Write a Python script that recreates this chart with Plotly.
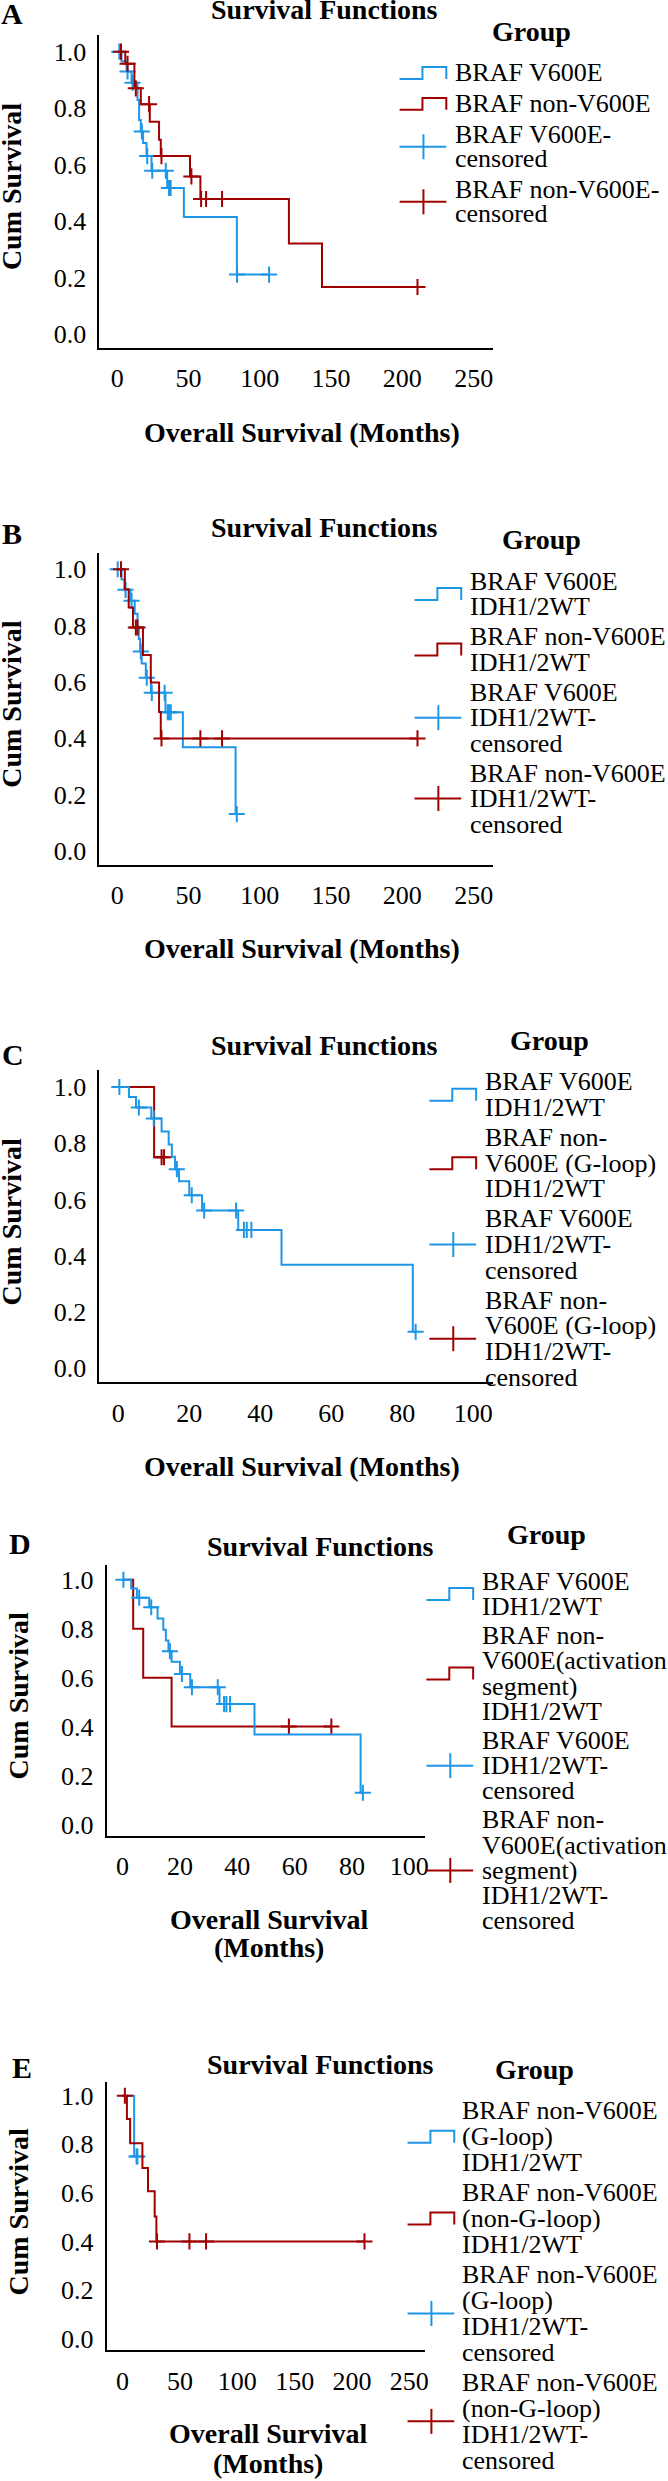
import plotly.graph_objects as go

W, H = 668, 2481
FONT = "'Liberation Serif', 'Times New Roman', Times, serif"
BLUE = "#1E96E8"
RED = "#A00000"
BLACK = "#000000"

# ---------------- data (months, cumulative survival) ----------------
# Panel A: BRAF V600E vs non-V600E
a_v600e_t = [3, 6.5, 10, 14.2, 15.3, 16.5, 18.1, 20.5, 24, 35, 46.7, 83.9]
a_v600e_s = [0.965, 0.93, 0.89, 0.829, 0.758, 0.717, 0.676, 0.63, 0.578, 0.517, 0.414, 0.21]
a_v600e_c = [1.4, 7.2, 10.7, 17.2, 21, 24.5, 34, 36.3, 37.4, 84, 106.5]
a_non_t = [5.6, 12, 16.5, 22.8, 29.3, 30.5, 51, 58.3, 120.4, 143.6]
a_non_s = [0.957, 0.87, 0.814, 0.752, 0.688, 0.63, 0.558, 0.478, 0.32, 0.166]
a_non_c = [2.6, 7.2, 13, 22.3, 31, 52, 58.8, 62.3, 73.5, 210.6]

# BRAF V600E IDH1/2WT (panels B, C, D)
v600e_wt_t = [3, 5, 9.3, 12.2, 14.2, 15.1, 16, 17.1, 20, 23.6, 33.8, 46, 83]
v600e_wt_s = [0.964, 0.927, 0.888, 0.842, 0.796, 0.752, 0.708, 0.665, 0.615, 0.561, 0.492, 0.368, 0.13]
v600e_wt_c = [0.3, 5.8, 10, 16.5, 20.7, 24.2, 33.2, 35.4, 36.2, 37.5, 83.8]

# BRAF non-V600E IDH1/2WT (panel B)
non_wt_t = [5.3, 8, 11, 18, 23.5, 29.3, 30.5]
non_wt_s = [0.929, 0.864, 0.793, 0.695, 0.598, 0.493, 0.399]
non_wt_c = [2.6, 13, 14.2, 31, 58.3, 73.5, 210.6]

# BRAF non-V600E (G-loop) IDH1/2WT (panels C, E)
gloop_t = [10.1]
gloop_s = [0.75]
gloop_c = [12.2, 12.9]

# BRAF non-V600E (activation segment) IDH1/2WT (panel D)
act_t = [3.7, 7.2, 17.1]
act_s = [0.8, 0.6, 0.4]
act_c = [58, 72.8]

# BRAF non-V600E (non-G-loop) IDH1/2WT (panel E)
nongl_t = [3.8, 6.6, 17.3, 22.2, 28, 29.5]
nongl_s = [0.904, 0.805, 0.703, 0.607, 0.503, 0.401]
nongl_c = [2, 30, 58.3, 72.8, 210.9]

# tick labels
x_ticks_250 = [0, 50, 100, 150, 200, 250]
x_ticks_100 = [0, 20, 40, 60, 80, 100]
y_ticks = [0.0, 0.2, 0.4, 0.6, 0.8, 1.0]

# legend texts
leg_A = [["BRAF V600E"], ["BRAF non-V600E"], ["BRAF V600E-", "censored"],
         ["BRAF non-V600E-", "censored"]]
leg_B = [["BRAF V600E", "IDH1/2WT"], ["BRAF non-V600E", "IDH1/2WT"],
         ["BRAF V600E", "IDH1/2WT-", "censored"],
         ["BRAF non-V600E", "IDH1/2WT-", "censored"]]
leg_C = [["BRAF V600E", "IDH1/2WT"], ["BRAF non-", "V600E (G-loop)", "IDH1/2WT"],
         ["BRAF V600E", "IDH1/2WT-", "censored"],
         ["BRAF non-", "V600E (G-loop)", "IDH1/2WT-", "censored"]]
leg_D = [["BRAF V600E", "IDH1/2WT"],
         ["BRAF non-", "V600E(activation", "segment)", "IDH1/2WT"],
         ["BRAF V600E", "IDH1/2WT-", "censored"],
         ["BRAF non-", "V600E(activation", "segment)", "IDH1/2WT-", "censored"]]
leg_E = [["BRAF non-V600E", "(G-loop)", "IDH1/2WT"],
         ["BRAF non-V600E", "(non-G-loop)", "IDH1/2WT"],
         ["BRAF non-V600E", "(G-loop)", "IDH1/2WT-", "censored"],
         ["BRAF non-V600E", "(non-G-loop)", "IDH1/2WT-", "censored"]]

# ---------------- layout geometry (pixels) ----------------
panels = [
    dict(label="A", left=100, right=496, top=35, bottom=348, x0=118, xppu=71.7 / 50,
         y1=51.7, y0=334.3, xticks=x_ticks_250,
         curves=[(a_v600e_t, a_v600e_s, a_v600e_c, BLUE), (a_non_t, a_non_s, a_non_c, RED)],
         lab=(12.5, 13.3), title=(326, 10), ytitle=(11.7, 186.7),
         xtitle=[("Overall Survival (Months)", 304, 433)],
         group=(535, 32), legend=leg_A, icon_x=402, text_x=457, leg_y0=73, within=24, between=31),
    dict(label="B", left=100, right=496, top=553.3, bottom=865.7, x0=118, xppu=71.7 / 50,
         y1=570, y0=851.7, xticks=x_ticks_250,
         curves=[(v600e_wt_t, v600e_wt_s, v600e_wt_c, BLUE), (non_wt_t, non_wt_s, non_wt_c, RED)],
         lab=(11.7, 534), title=(326, 528), ytitle=(11.7, 705),
         xtitle=[("Overall Survival (Months)", 304, 950)],
         group=(545, 540), legend=leg_B, icon_x=417, text_x=472, leg_y0=582, within=25.5, between=30),
    dict(label="C", left=100, right=496, top=1071.7, bottom=1384, x0=119, xppu=3.57,
         y1=1088.3, y0=1370, xticks=x_ticks_100,
         curves=[(gloop_t, gloop_s, gloop_c, RED), (v600e_wt_t, v600e_wt_s, v600e_wt_c, BLUE)],
         lab=(13.3, 1055.8), title=(326, 1046.7), ytitle=(11.7, 1223.3),
         xtitle=[("Overall Survival (Months)", 304, 1468)],
         group=(553, 1041.7), legend=leg_C, icon_x=432, text_x=487, leg_y0=1083.3, within=25.7, between=30),
    dict(label="D", left=107.3, right=427.3, top=1566.7, bottom=1838.3, x0=123.3, xppu=2.885,
         y1=1581.7, y0=1826.7, xticks=x_ticks_100,
         curves=[(act_t, act_s, act_c, RED), (v600e_wt_t, v600e_wt_s, v600e_wt_c, BLUE)],
         lab=(20, 1545.8), title=(322, 1548.3), ytitle=(18.3, 1698.3),
         xtitle=[("Overall Survival", 270.7, 1921.7), ("(Months)", 270.7, 1950)],
         group=(550, 1536.7), legend=leg_D, icon_x=429, text_x=484, leg_y0=1583.3, within=25.3, between=29),
    dict(label="E", left=107.3, right=427.3, top=2084.3, bottom=2353.3, x0=123.3, xppu=57.7 / 50,
         y1=2098.3, y0=2341.7, xticks=x_ticks_250,
         curves=[(gloop_t, gloop_s, gloop_c, BLUE), (nongl_t, nongl_s, nongl_c, RED)],
         lab=(22.5, 2070), title=(322, 2066.7), ytitle=(18.3, 2215),
         xtitle=[("Overall Survival", 270, 2436.7), ("(Months)", 270, 2466.7)],
         group=(538, 2071.7), legend=leg_E, icon_x=410, text_x=464, leg_y0=2113.3, within=26, between=30),
]


def px(x):
    return x / W


def py(y):
    return 1 - y / H


def km_steps(t, s, c):
    end = max([t[-1]] + list(c))
    return [0] + list(t) + [end], [1.0] + list(s) + [s[-1]]


def surv_at(t, s, time):
    v = 1.0
    for ti, si in zip(t, s):
        if ti <= time:
            v = si
    return v


fig = go.Figure()
layout = dict(width=W, height=H, margin=dict(l=0, r=0, t=0, b=0),
              paper_bgcolor="white", plot_bgcolor="white", showlegend=False,
              font=dict(family=FONT, color=BLACK))
annotations = []
shapes = []

for i, p in enumerate(panels, start=1):
    xa = "xaxis" if i == 1 else f"xaxis{i}"
    ya = "yaxis" if i == 1 else f"yaxis{i}"
    xr = "x" if i == 1 else f"x{i}"
    yr = "y" if i == 1 else f"y{i}"
    yppu = p["y0"] - p["y1"]
    layout[xa] = dict(
        domain=[px(p["left"]), px(p["right"])],
        range=[(p["left"] - p["x0"]) / p["xppu"], (p["right"] - p["x0"]) / p["xppu"]],
        anchor=yr, showgrid=False, zeroline=False, showline=True, linecolor=BLACK,
        linewidth=2, ticks="", tickvals=p["xticks"], ticktext=[str(v) for v in p["xticks"]],
        tickfont=dict(family=FONT, size=26, color=BLACK), ticklabelstandoff=6, fixedrange=True)
    layout[ya] = dict(
        domain=[py(p["bottom"]), py(p["top"])],
        range=[(p["y0"] - p["bottom"]) / yppu, (p["y0"] - p["top"]) / yppu],
        anchor=xr, showgrid=False, zeroline=False, showline=True, linecolor=BLACK,
        linewidth=2, ticks="", tickvals=y_ticks, ticktext=[f"{v:.1f}" for v in y_ticks],
        tickfont=dict(family=FONT, size=26, color=BLACK), ticklabelstandoff=6, fixedrange=True)

    for (t, s, c, col) in p["curves"]:
        xs, ys = km_steps(t, s, c)
        fig.add_trace(go.Scatter(x=xs, y=ys, mode="lines", line=dict(color=col, width=2, shape="hv"),
                                 xaxis=xr, yaxis=yr, hoverinfo="skip"))
        fig.add_trace(go.Scatter(x=c, y=[surv_at(t, s, ci) for ci in c], mode="markers",
                                 marker=dict(symbol="cross-thin", size=11.5,
                                             line=dict(color=col, width=2)),
                                 xaxis=xr, yaxis=yr, cliponaxis=False, hoverinfo="skip"))

    # panel letter
    annotations.append(dict(text="<b>" + p["label"] + "</b>", x=px(p["lab"][0]), y=py(p["lab"][1]),
                            xref="paper", yref="paper", xanchor="center", yanchor="middle",
                            showarrow=False, font=dict(family=FONT, size=30, color=BLACK)))
    # title
    annotations.append(dict(text="<b>Survival Functions</b>", x=px(p["title"][0]), y=py(p["title"][1]),
                            xref="paper", yref="paper", xanchor="center", yanchor="middle",
                            showarrow=False, font=dict(family=FONT, size=28, color=BLACK)))
    # y title
    annotations.append(dict(text="<b>Cum Survival</b>", x=px(p["ytitle"][0]), y=py(p["ytitle"][1]),
                            xref="paper", yref="paper", xanchor="center", yanchor="middle",
                            textangle=-90, showarrow=False,
                            font=dict(family=FONT, size=28, color=BLACK)))
    # x title
    for (txt, tx, ty) in p["xtitle"]:
        annotations.append(dict(text="<b>" + txt + "</b>", x=px(tx), y=py(ty), xref="paper",
                                yref="paper", xanchor="center", yanchor="middle", showarrow=False,
                                font=dict(family=FONT, size=28, color=BLACK)))
    # legend
    annotations.append(dict(text="<b>Group</b>", x=px(p["group"][0]), y=py(p["group"][1]),
                            xref="paper", yref="paper", xanchor="center", yanchor="middle",
                            showarrow=False, font=dict(family=FONT, size=28, color=BLACK)))
    yline = p["leg_y0"]
    for k, lines in enumerate(p["legend"]):
        ys_lines = []
        for j, ln in enumerate(lines):
            if j > 0:
                yline += p["within"]
            ys_lines.append(yline)
            annotations.append(dict(text=ln, x=px(p["text_x"]), y=py(yline), xref="paper",
                                    yref="paper", xanchor="left", yanchor="middle",
                                    showarrow=False, borderpad=0,
                                    font=dict(family=FONT, size=26, color=BLACK)))
        yc = (ys_lines[0] + ys_lines[-1]) / 2
        yline += p["between"]
        col = BLUE if k in (0, 2) else RED
        L = p["icon_x"]
        R = L + 47
        if k < 2:
            mid = L + 23
            path = (f"M {px(L)},{py(yc + 6)} L {px(mid)},{py(yc + 6)} L {px(mid)},{py(yc - 6)} "
                    f"L {px(R)},{py(yc - 6)} L {px(R)},{py(yc + 6)}")
            shapes.append(dict(type="path", path=path, xref="paper", yref="paper",
                               line=dict(color=col, width=2)))
        else:
            shapes.append(dict(type="line", x0=px(L), x1=px(R), y0=py(yc), y1=py(yc),
                               xref="paper", yref="paper", line=dict(color=col, width=2)))
            shapes.append(dict(type="line", x0=px(L + 24), x1=px(L + 24), y0=py(yc - 12.5),
                               y1=py(yc + 12.5), xref="paper", yref="paper",
                               line=dict(color=col, width=2)))

layout["annotations"] = annotations
layout["shapes"] = shapes
fig.update_layout(**layout)
fig.write_html("out.html", config={"displayModeBar": False, "staticPlot": True},
               post_script="document.body.style.margin='0';document.body.style.padding='0';")
